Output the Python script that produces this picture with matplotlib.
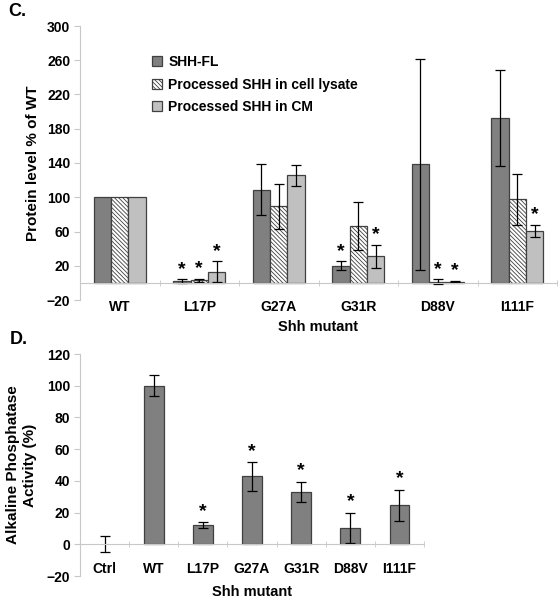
import matplotlib
matplotlib.use("Agg")
import matplotlib.pyplot as plt
import numpy as np

plt.rcParams['font.family'] = ['Liberation Sans', 'DejaVu Sans']
plt.rcParams['font.weight'] = 'bold'
plt.rcParams['hatch.color'] = '#a8a8a8'
plt.rcParams['hatch.linewidth'] = 0.6

# Panel C data
c_categories = ["WT", "L17P", "G27A", "G31R", "D88V", "I111F"]
c_series = ["SHH-FL", "Processed SHH in cell lysate", "Processed SHH in CM"]
c_fl = [100, 2, 109, 20, 138.5, 192.5]
c_fl_err = [0, 2, 30, 5, 123, 56]
c_lys = [100, 3, 89.5, 66, 1.5, 97.5]
c_lys_err = [0, 1.5, 26, 28, 2.5, 30]
c_cm = [100, 13, 125.5, 31, 1.5, 60.5]
c_cm_err = [0, 12, 12, 13.5, 0.5, 7]
c_star_fl = [False, True, False, True, False, False]
c_star_lys = [False, True, False, False, True, False]
c_star_cm = [False, True, False, True, True, True]

# Panel D data
d_categories = ["Ctrl", "WT", "L17P", "G27A", "G31R", "D88V", "I111F"]
d_values = [0, 100, 12, 42.8, 33, 10.3, 24.5]
d_err = [5, 6.5, 2, 9, 6.5, 9.7, 10]
d_star = [False, False, True, True, True, True, True]

fig = plt.figure(figsize=(5.59, 6.0), dpi=100)

edge = '#404040'
spine_c = '#c8c8c8'
TICK_FS = 10

def style_axes(ax, labels):
    ncat = len(labels)
    ax.spines['top'].set_visible(False)
    ax.spines['right'].set_visible(False)
    ax.spines['left'].set_color(spine_c)
    ax.spines['bottom'].set_color(spine_c)
    ax.spines['bottom'].set_position(('data', 0))
    ax.set_xlim(-0.5, ncat - 0.5)
    ax.set_xticks(np.arange(ncat))
    ax.set_xticklabels(labels)
    ax.set_xticks(np.arange(ncat + 1) - 0.5, minor=True)
    ax.tick_params(axis='x', which='major', length=0, pad=12.5, labelsize=TICK_FS)
    ax.tick_params(axis='x', which='minor', length=4, color=spine_c, direction='inout')
    ax.tick_params(axis='y', length=4, color=spine_c, labelsize=TICK_FS, pad=3)
    for lab in ax.get_xticklabels() + ax.get_yticklabels():
        lab.set_fontweight('bold')

# ---------- Panel C ----------
axc = fig.add_axes([80/559, 1 - 300/600, 477/559, 274/600])
x = np.arange(len(c_categories))
w = 0.22
ekw = dict(ecolor='black', elinewidth=0.9, capsize=3.5, capthick=0.9)
axc.bar(x - w, c_fl, w, color='#808080', edgecolor=edge, linewidth=0.9,
        yerr=[e if e > 0 else np.nan for e in c_fl_err], error_kw=ekw, label=c_series[0])
axc.bar(x, c_lys, w, color='white', edgecolor=edge, linewidth=0.9, hatch='\\' * 8,
        yerr=[e if e > 0 else np.nan for e in c_lys_err], error_kw=ekw, label=c_series[1])
axc.bar(x + w, c_cm, w, color='#c0c0c0', edgecolor=edge, linewidth=0.9,
        yerr=[e if e > 0 else np.nan for e in c_cm_err], error_kw=ekw, label=c_series[2])
axc.set_ylim(-20, 300)
axc.set_yticks(np.arange(-20, 301, 40))
style_axes(axc, c_categories)
for off, vals, errs, stars in [(-w, c_fl, c_fl_err, c_star_fl), (0, c_lys, c_lys_err, c_star_lys),
                               (w, c_cm, c_cm_err, c_star_cm)]:
    for i in range(len(vals)):
        if stars[i]:
            axc.text(x[i] + off, vals[i] + errs[i] + 2, '*', ha='center', va='bottom',
                     fontsize=14, fontweight='bold')
axc.set_ylabel('Protein level % of WT', fontsize=11, fontweight='bold', labelpad=5)
fig.text(318/559, 1 - 327/600, 'Shh mutant', ha='center', va='center',
         fontsize=10.5, fontweight='bold')
leg = axc.legend(loc='upper left', bbox_to_anchor=(0.125, 0.94), frameon=False, fontsize=10,
                 handlelength=0.7, handleheight=0.7, handletextpad=0.45, labelspacing=0.62)
for t in leg.get_texts():
    t.set_fontweight('bold')
fig.text(8/559, 1 - 12/600, 'C.', fontsize=13, fontweight='bold', ha='left', va='center')

# ---------- Panel D ----------
axd = fig.add_axes([80/559, 1 - 576/600, 344/559, 222/600])
xd = np.arange(len(d_categories))
wd = 0.4
colors_d = ['none'] + ['#808080'] * (len(d_categories) - 1)
edges_d = ['none'] + [edge] * (len(d_categories) - 1)
axd.bar(xd, d_values, wd, color=colors_d, edgecolor=edges_d, linewidth=0.9,
        yerr=d_err, error_kw=ekw)
axd.set_ylim(-20, 120)
axd.set_yticks(np.arange(-20, 121, 20))
style_axes(axd, d_categories)
for i in range(len(d_values)):
    if d_star[i]:
        axd.text(xd[i], d_values[i] + d_err[i] + 1.5, '*', ha='center', va='bottom',
                 fontsize=14, fontweight='bold')
axd.set_ylabel('Alkaline Phosphatase\nActivity (%)', fontsize=11, fontweight='bold', labelpad=7,
               linespacing=1.3)
fig.text(252/559, 1 - 592/600, 'Shh mutant', ha='center', va='center',
         fontsize=10.5, fontweight='bold')
fig.text(10/559, 1 - 340/600, 'D.', fontsize=13, fontweight='bold', ha='left', va='center')

fig.savefig('out.png', dpi=100)
